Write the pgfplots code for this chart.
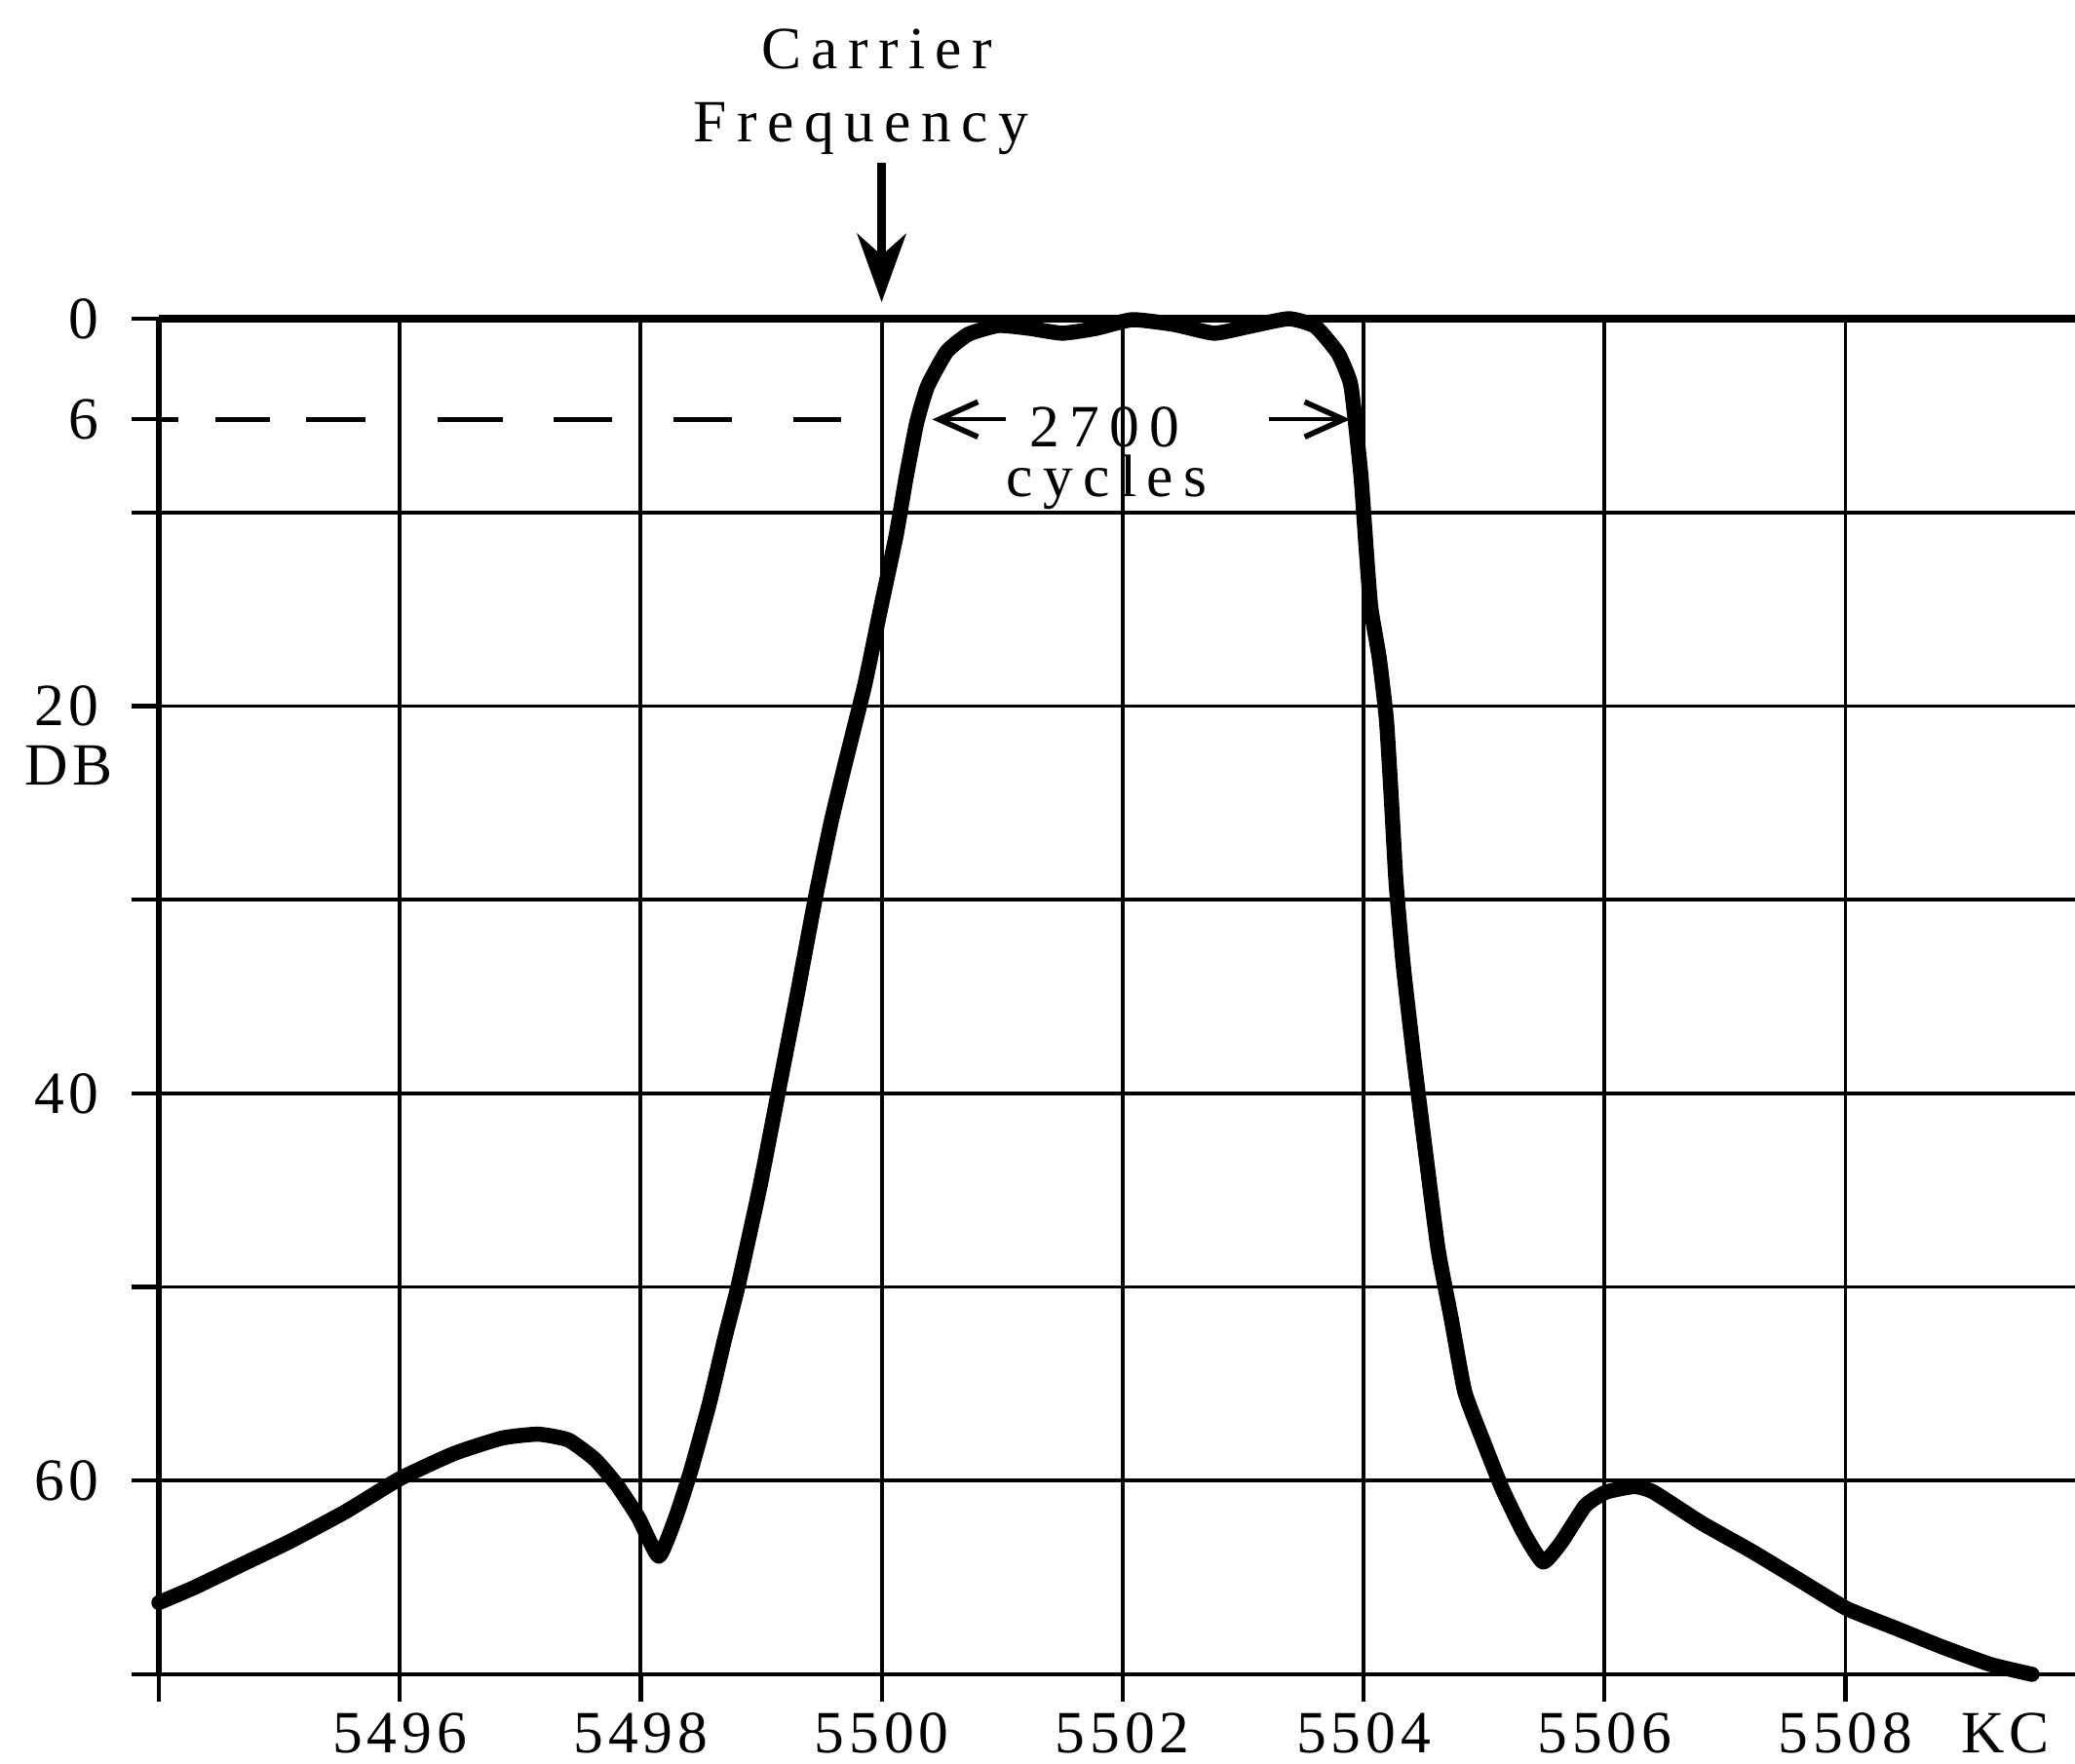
\documentclass[border=0pt]{standalone}
\usepackage{pgfplots}
\pgfplotsset{compat=1.18}
\usepackage{pgfplotstable}
\usetikzlibrary{arrows.meta}
\usepackage{fontspec}
\newfontfamily\tickfont[LetterSpace=8]{Liberation Serif}
\newfontfamily\lblfont[LetterSpace=17]{Liberation Serif}
\newcommand\tf{\tickfont\fontsize{17.5}{20}\selectfont}
\newcommand\lf{\lblfont\fontsize{17.5}{20}\selectfont}

\pgfplotstableread{
f db
5494.00 66.3
5494.30 65.5
5494.70 64.3
5495.10 63.1
5495.55 61.6
5496.00 59.9
5496.45 58.6
5496.85 57.8
5497.15 57.6
5497.40 57.9
5497.62 58.9
5497.80 60.2
5497.98 61.9
5498.15 63.9
5498.29 61.9
5498.42 59.4
5498.57 56.0
5498.70 52.6
5498.81 49.9
5498.99 44.8
5499.14 40.0
5499.29 35.2
5499.45 29.9
5499.58 26.0
5499.70 22.9
5499.86 18.9
5499.99 15.0
5500.12 11.2
5500.20 8.3
5500.29 5.4
5500.38 3.5
5500.54 1.7
5500.72 0.8
5500.97 0.35
5501.23 0.5
5501.50 0.75
5501.78 0.5
5502.08 0.05
5502.43 0.3
5502.76 0.75
5503.05 0.4
5503.38 0.0
5503.60 0.4
5503.79 1.8
5503.89 3.3
5503.93 5.2
5503.98 8.2
5504.02 11.7
5504.06 14.9
5504.13 17.5
5504.19 20.7
5504.23 24.7
5504.27 29.1
5504.33 33.4
5504.42 38.3
5504.52 43.3
5504.62 48.1
5504.73 51.7
5504.84 55.4
5504.99 57.9
5505.15 60.4
5505.33 62.7
5505.49 64.2
5505.64 63.2
5505.84 61.3
5506.01 60.6
5506.25 60.3
5506.41 60.6
5506.81 62.2
5507.21 63.6
5507.61 65.1
5508.01 66.6
5508.41 67.6
5508.81 68.6
5509.21 69.5
5509.55 70.0
}\curve

\begin{document}
\begin{tikzpicture}
\begin{axis}[
  at={(0,0)}, anchor=south west,
  width=19.66cm, height=13.91cm, scale only axis,
  xmin=5494, xmax=5509.906,
  ymin=-70, ymax=0,
  clip=false,
  axis x line*=bottom, axis y line*=left,
  x axis line style={line width=1.4pt},
  y axis line style={line width=1.6pt},
  tick align=outside,
  major tick length=0.28cm,
  xtick={5494,5496,...,5508},
  xticklabels={,5496,5498,5500,5502,5504,5506,5508},
  ytick={-70,-60,...,0},
  yticklabels={,60,,40,,{20\hspace{0.13cm}},,{0\hspace{0.11cm}}},
  extra x ticks={5509.33},
  extra x tick labels={KC},
  extra x tick style={grid=none, tick style={draw=none}},
  extra y ticks={-5.2},
  extra y tick labels={{6\hspace{0.11cm}}},
  extra y tick style={grid=none},
  tick style={line width=1.2pt, black},
  grid=major,
  major grid style={black, line width=1.1pt},
  tick label style={font=\tf, black},
  xticklabel style={yshift=0.01cm},
  yticklabel style={anchor=east, xshift=-0.21cm},
]
\draw[line width=2pt] (rel axis cs:0,1) -- (rel axis cs:1,1);
\draw[line width=1.4pt, dash pattern=on 0.2cm off 0.38cm on 0.56cm off 0.37cm on 0.61cm off 0.74cm on 0.67cm off 0.52cm on 0.6cm off 0.63cm on 0.6cm off 0.63cm on 0.49cm off 1cm]
  (axis cs:5494,-5.2) -- (axis cs:5499.66,-5.2);
\addplot[black, line width=4.4pt, line join=round, line cap=round, smooth, tension=0.3]
  table[x=f, y expr=-\thisrow{db}] \curve;
\draw[line width=1.2pt, -{Straight Barb[length=0.4cm, width=0.36cm, line width=1.6pt]}]
  (axis cs:5501.03,-5.2) -- (axis cs:5500.42,-5.2);
\draw[line width=1.2pt, -{Straight Barb[length=0.4cm, width=0.36cm, line width=1.6pt]}]
  (axis cs:5503.215,-5.2) -- (axis cs:5503.89,-5.2);
\node[font=\lf, anchor=base, inner sep=0pt] at (axis cs:5501.85,-6.6) {2700};
\node[font=\lf, anchor=base, inner sep=0pt] at (axis cs:5501.87,-9.2) {cycles};
\node[font=\tf, anchor=base west, inner sep=0pt] at ([xshift=-1.38cm]axis cs:5494,-24.1) {DB};
\draw[line width=2.6pt, -{Stealth[length=0.7cm, width=0.5cm, inset=0.22cm]}]
  ([yshift=1.6cm]axis cs:5500,0) -- ([yshift=0.17cm]axis cs:5500,0);
\node[font=\lf, anchor=base, inner sep=0pt] at ([xshift=-0.05cm, yshift=2.57cm]axis cs:5500,0) {Carrier};
\node[font=\lf, anchor=base, inner sep=0pt] at ([xshift=-0.21cm, yshift=1.82cm]axis cs:5500,0) {Frequency};
\end{axis}
\pgfresetboundingbox
\path[use as bounding box] (-1.63,-0.92) rectangle (19.66,17.18);
\end{tikzpicture}
\end{document}
